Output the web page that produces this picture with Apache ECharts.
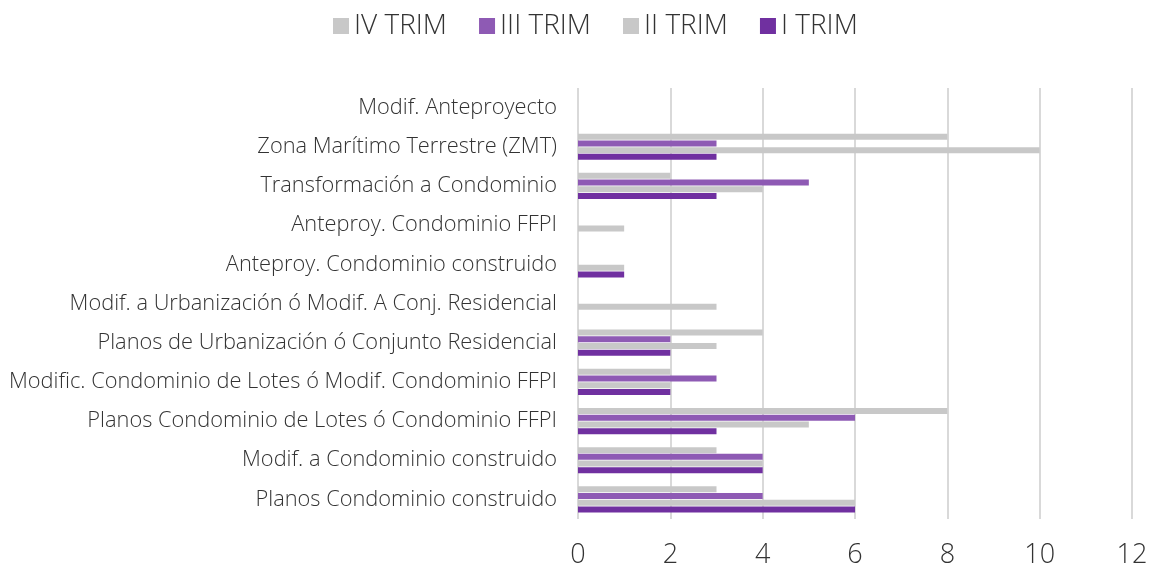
<!DOCTYPE html>
<html>
<head>
<meta charset="utf-8">
<script src="https://cdn.jsdelivr.net/npm/echarts@6/dist/echarts.min.js"></script>
<style>
  html, body { margin: 0; padding: 0; background: #fff; }
  #main { width: 1152px; height: 569px; }
</style>
</head>
<body>
<div id="main"></div>
<script>
// categories, bottom to top
const categories = [
  'Planos Condominio construido',
  'Modif. a Condominio construido',
  'Planos Condominio de Lotes ó Condominio FFPI',
  'Modific. Condominio de Lotes ó Modif. Condominio FFPI',
  'Planos de Urbanización ó Conjunto Residencial',
  'Modif. a Urbanización ó Modif. A Conj. Residencial',
  'Anteproy. Condominio construido',
  'Anteproy. Condominio FFPI',
  'Transformación a Condominio',
  'Zona Marítimo Terrestre (ZMT)',
  'Modif. Anteproyecto'
]
const trimI = [6, 4, 3, 2, 2, 0, 1, 0, 3, 3, 0]
const trimII = [6, 4, 5, 2, 3, 3, 1, 1, 4, 10, 0]
const trimIII = [4, 4, 6, 3, 2, 0, 0, 0, 5, 3, 0]
const trimIV = [3, 3, 8, 2, 4, 0, 0, 0, 2, 8, 0]

const FONT = 'Open Sans'
const chart = echarts.init(document.getElementById('main'))

function barSeries(name, data, color) {
  return {
    name: name,
    type: 'bar',
    data: data,
    barWidth: 6,
    barGap: '12%',
    itemStyle: { color: color },
    emphasis: { disabled: true }
  }
}

chart.setOption({
  backgroundColor: '#ffffff',
  animation: false,
  legend: {
    data: ['IV TRIM', 'III TRIM', 'II TRIM', 'I TRIM'],
    top: 7,
    left: 328,
    itemWidth: 16,
    itemHeight: 16,
    itemGap: 32,
    icon: 'rect',
    textStyle: { fontFamily: FONT, fontWeight: 300, fontSize: 28, color: '#333' }
  },
  grid: {
    left: 578,
    right: 20,
    top: 88,
    bottom: 49
  },
  xAxis: {
    type: 'value',
    min: 0,
    max: 12,
    interval: 2,
    axisLine: { show: false },
    axisTick: { show: false },
    splitLine: { lineStyle: { color: '#d9d9d9', width: 2 } },
    axisLabel: { margin: 23, fontFamily: FONT, fontWeight: 300, fontSize: 27, color: '#333' }
  },
  yAxis: {
    type: 'category',
    data: categories,
    axisLine: { show: false },
    axisTick: { show: false },
    axisLabel: { margin: 21, fontFamily: FONT, fontWeight: 300, fontSize: 21.8, color: '#333' }
  },
  // ECharts stacks horizontal groups top-down in series order
  series: [
    barSeries('IV TRIM', trimIV, '#c8c8c8'),
    barSeries('III TRIM', trimIII, '#8e5ab4'),
    barSeries('II TRIM', trimII, '#c8c8c8'),
    barSeries('I TRIM', trimI, '#7030a0')
  ]
})
</script>
</body>
</html>
